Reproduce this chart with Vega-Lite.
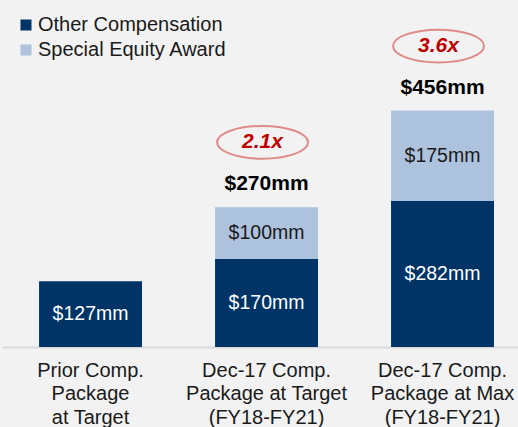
{
  "$schema": "https://vega.github.io/schema/vega-lite/v6.json",
  "width": 516,
  "height": 347,
  "autosize": {"type": "none"},
  "padding": {"left": 2, "top": 0, "right": 0, "bottom": 80},
  "background": "#f2f2f2",
  "config": {
    "view": {"stroke": null},
    "font": "Liberation Sans"
  },
  "datasets": {
    "segments": [
      {"category": "Prior Comp.|Package|at Target", "series": "Other Compensation", "order": 1, "value": 127, "label": "$127mm"},
      {"category": "Dec-17 Comp.|Package at Target|(FY18-FY21)", "series": "Other Compensation", "order": 1, "value": 170, "label": "$170mm"},
      {"category": "Dec-17 Comp.|Package at Target|(FY18-FY21)", "series": "Special Equity Award", "order": 2, "value": 100, "label": "$100mm"},
      {"category": "Dec-17 Comp.|Package at Max|(FY18-FY21)", "series": "Other Compensation", "order": 1, "value": 282, "label": "$282mm"},
      {"category": "Dec-17 Comp.|Package at Max|(FY18-FY21)", "series": "Special Equity Award", "order": 2, "value": 175, "label": "$175mm"}
    ],
    "totals": [
      {"category": "Dec-17 Comp.|Package at Target|(FY18-FY21)", "total": 270, "totalLabel": "$270mm", "multiple": "2.1x"},
      {"category": "Dec-17 Comp.|Package at Max|(FY18-FY21)", "total": 456, "totalLabel": "$456mm", "multiple": "3.6x"}
    ]
  },
  "encoding": {
    "x": {
      "field": "category",
      "type": "nominal",
      "sort": null,
      "scale": {
        "domain": ["Prior Comp.|Package|at Target", "Dec-17 Comp.|Package at Target|(FY18-FY21)", "Dec-17 Comp.|Package at Max|(FY18-FY21)"],
        "paddingInner": 0.415,
        "paddingOuter": 0.1735,
        "align": 0.607
      },
      "axis": {
        "title": null,
        "labelAngle": 0,
        "labelExpr": "split(datum.label, '|')",
        "labelFont": "Liberation Sans",
        "labelFontSize": 20,
        "labelColor": "#1a1a1a",
        "labelLineHeight": 23.5,
        "labelPadding": 13,
        "labelLimit": 300,
        "ticks": false,
        "domainColor": "#d9d9d9",
        "domainWidth": 2,
        "grid": false
      }
    }
  },
  "layer": [
    {
      "data": {"name": "segments"},
      "transform": [
        {"stack": "value", "groupby": ["category"], "sort": [{"field": "order", "order": "ascending"}], "as": ["v0", "v1"]}
      ],
      "mark": {"type": "bar"},
      "encoding": {
        "y": {"field": "v1", "type": "quantitative", "scale": {"domain": [0, 670.5], "nice": false, "zero": true}, "axis": null},
        "y2": {"field": "v0"},
        "color": {
          "field": "series",
          "type": "nominal",
          "scale": {"domain": ["Other Compensation", "Special Equity Award"], "range": ["#003366", "#adc2dd"]},
          "legend": {
            "title": null,
            "orient": "none",
            "legendX": 14,
            "legendY": 15,
            "symbolType": "square",
            "symbolSize": 121,
            "symbolStrokeWidth": 0,
            "labelFont": "Liberation Sans",
            "labelFontSize": 20,
            "labelColor": "#1a1a1a",
            "labelOffset": 2,
            "rowPadding": 5,
            "labelLimit": 300
          }
        }
      }
    },
    {
      "data": {"name": "segments"},
      "transform": [
        {"stack": "value", "groupby": ["category"], "sort": [{"field": "order", "order": "ascending"}], "as": ["v0", "v1"]},
        {"calculate": "(datum.v0 + datum.v1) / 2", "as": "mid"}
      ],
      "mark": {"type": "text", "fontSize": 19.5, "font": "Liberation Sans", "baseline": "middle", "align": "center"},
      "encoding": {
        "y": {"field": "mid", "type": "quantitative"},
        "text": {"field": "label"},
        "color": {
          "condition": {"test": "datum.series === 'Other Compensation'", "value": "#ffffff"},
          "value": "#1a1a1a"
        }
      }
    },
    {
      "data": {"name": "totals"},
      "mark": {"type": "text", "fontSize": 21, "fontWeight": "bold", "font": "Liberation Sans", "baseline": "middle", "align": "center", "dy": -23, "color": "#000000"},
      "encoding": {
        "y": {"field": "total", "type": "quantitative"},
        "text": {"field": "totalLabel"}
      }
    },
    {
      "data": {"name": "totals"},
      "mark": {
        "type": "point",
        "shape": "M -1 0 A 1 0.36 0 1 1 1 0 A 1 0.36 0 1 1 -1 0 Z",
        "size": 8281,
        "filled": false,
        "stroke": "#e08a8a",
        "strokeWidth": 2,
        "opacity": 1,
        "xOffset": -4,
        "yOffset": -65
      },
      "encoding": {
        "y": {"field": "total", "type": "quantitative"}
      }
    },
    {
      "data": {"name": "totals"},
      "mark": {"type": "text", "fontSize": 21, "fontWeight": "bold", "fontStyle": "italic", "font": "Liberation Sans", "baseline": "middle", "align": "center", "dy": -65, "dx": -4, "color": "#c00000"},
      "encoding": {
        "y": {"field": "total", "type": "quantitative"},
        "text": {"field": "multiple"}
      }
    }
  ]
}
